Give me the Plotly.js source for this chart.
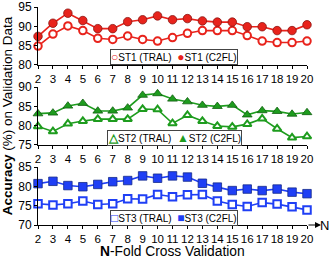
<!DOCTYPE html>
<html>
<head>
<meta charset="utf-8">
<script src="https://cdn.plot.ly/plotly-3.0.1.min.js"></script>
<style>html,body{margin:0;padding:0;background:#fff;}#chart{width:332px;height:259px;}</style>
</head>
<body>
<div id="chart"></div>
<script>
const folds = [2,3,4,5,6,7,8,9,10,11,12,13,14,15,16,17,18,19,20];
const st1Tral = [84.9, 88.0, 90.1, 88.9, 86.9, 86.6, 87.5, 86.6, 86.2, 87.1, 88.2, 88.9, 88.9, 88.9, 87.6, 86.2, 85.8, 85.8, 86.2];
const st1C2fl = [87.4, 90.8, 93.4, 91.5, 89.4, 89.4, 91.2, 91.7, 92.7, 91.7, 92.0, 91.4, 91.1, 91.1, 89.9, 89.9, 88.9, 88.9, 90.4];
const st2Tral = [79.8, 78.5, 80.5, 81.2, 81.7, 81.7, 81.7, 84.3, 84.2, 80.6, 82.7, 81.2, 79.9, 79.7, 80.4, 81.8, 79.2, 76.9, 77.2];
const st2C2fl = [83.1, 83.3, 85.1, 85.8, 83.8, 83.8, 84.6, 87.9, 88.3, 86.9, 86.2, 85.3, 85.0, 85.3, 82.8, 83.9, 83.7, 83.0, 83.4];
const st3Tral = [75.5, 75.2, 75.5, 76.2, 75.3, 75.5, 76.8, 76.7, 77.9, 77.3, 77.8, 77.9, 76.2, 75.3, 74.8, 75.8, 75.4, 74.7, 73.9];
const st3C2fl = [80.7, 81.3, 80.2, 79.9, 80.5, 81.2, 81.5, 82.7, 82.1, 82.7, 82.4, 80.8, 79.8, 78.9, 79.3, 78.9, 79.3, 78.5, 78.1];
const seriesNames = ['ST1 (TRAL)', 'ST1 (C2FL)', 'ST2 (TRAL)', 'ST2 (C2FL)', 'ST3 (TRAL)', 'ST3 (C2FL)'];
const xTitle = '<b>N</b>-Fold Cross Validation';
const yTitle = '<b>Accuracy</b> (%) on Validation Data';

const RED = '#e8231c', RED_D = '#8a1410';
const GREEN = '#1e9c1e', GREEN_D = '#0f5f0f';
const BLUE = '#1f3ff5', BLUE_D = '#142a8a';

function tr(y, name, xa, ya, color, dark, symbol, open) {
  return {
    x: folds, y: y, name: name, xaxis: xa, yaxis: ya, type: 'scatter', mode: 'lines+markers',
    cliponaxis: false, showlegend: false,
    line: {color: color, width: 1.6},
    marker: open ? {symbol: symbol, size: 7.5, color: '#ffffff', line: {color: color, width: 2}}
                 : {symbol: symbol, size: 8.5, color: color, line: {color: dark, width: 0.8}}
  };
}

const data = [
  tr(st1Tral, seriesNames[0], 'x', 'y', RED, RED_D, 'circle', true),
  tr(st1C2fl, seriesNames[1], 'x', 'y', RED, RED_D, 'circle', false),
  tr(st2Tral, seriesNames[2], 'x2', 'y2', GREEN, GREEN_D, 'triangle-up', true),
  tr(st2C2fl, seriesNames[3], 'x2', 'y2', GREEN, GREEN_D, 'triangle-up', false),
  tr(st3Tral, seriesNames[4], 'x3', 'y3', BLUE, BLUE_D, 'square', true),
  tr(st3C2fl, seriesNames[5], 'x3', 'y3', BLUE, BLUE_D, 'square', false)
];

const FONT = 'Liberation Sans, Arial, Helvetica, sans-serif';
function xax(anchor) {
  return {anchor: anchor, range: [2, 20], tickmode: 'array', tickvals: folds, tickangle: 0, showline: true, linecolor: '#000',
    linewidth: 1, ticks: 'outside', ticklen: 3, tickcolor: '#000', showgrid: false, zeroline: false,
    tickfont: {size: 11.5, color: '#000'}};
}
function yax(anchor, dom, range, ticks) {
  return {anchor: anchor, domain: dom, range: range, tickvals: ticks, showline: true, linecolor: '#000',
    linewidth: 1, ticks: 'outside', ticklen: 3, tickcolor: '#000', showgrid: false, zeroline: false,
    tickfont: {size: 12, color: '#000'}};
}

function sym(ch, color) {
  return '<span style="color:' + color + ';font-size:12px">' + ch + '</span>';
}

const layout = {
  width: 332, height: 259,
  margin: {l: 38, r: 25, t: 7, b: 34},
  paper_bgcolor: '#fff', plot_bgcolor: '#fff',
  font: {family: FONT, color: '#000'},
  showlegend: false,
  xaxis: xax('y'),
  yaxis: yax('x', [0.734, 1], [80, 95], [80, 85, 90, 95]),
  xaxis2: xax('y2'),
  yaxis2: Object.assign(yax('x2', [0.367, 0.633], [75, 90], [75, 80, 85, 90]),
    {title: {text: yTitle, font: {size: 13.5}}}),
  xaxis3: xax('y3'),
  yaxis3: yax('x3', [0, 0.266], [70, 85], [70, 75, 80, 85]),
  annotations: [
    {xref: 'paper', yref: 'paper', x: 0.5, y: -0.122, xanchor: 'center', yanchor: 'middle', showarrow: false,
     text: xTitle, font: {size: 13.8}},
    {xref: 'paper', yref: 'paper', x: 0.506, y: 0.771, xanchor: 'center', yanchor: 'middle', showarrow: false,
     text: sym('<b>○</b>', RED) + seriesNames[0] + '  ' + sym('●', RED) + seriesNames[1],
     font: {size: 10}, bgcolor: '#fff', bordercolor: '#444', borderwidth: 1, borderpad: 0},
    {xref: 'paper', yref: 'paper', x: 0.506, y: 0.399, xanchor: 'center', yanchor: 'middle', showarrow: false,
     text: sym('<b>△</b>', GREEN) + seriesNames[2] + '  ' + sym('▲', GREEN) + seriesNames[3],
     font: {size: 10}, bgcolor: '#fff', bordercolor: '#444', borderwidth: 1, borderpad: 0},
    {xref: 'paper', yref: 'paper', x: 0.506, y: 0.032, xanchor: 'center', yanchor: 'middle', showarrow: false,
     text: sym('<b>□</b>', BLUE) + seriesNames[4] + '  ' + sym('■', BLUE) + seriesNames[5],
     font: {size: 10}, bgcolor: '#fff', bordercolor: '#444', borderwidth: 1, borderpad: 0},
    {xref: 'paper', yref: 'paper', x: 1.052, y: 0, axref: 'pixel', ayref: 'pixel', ax: -14, ay: 0,
     text: '', showarrow: true, arrowhead: 2, arrowsize: 1.2, arrowwidth: 1, arrowcolor: '#000', standoff: 0},
    {xref: 'paper', yref: 'paper', x: 1.088, y: 0, xanchor: 'right', yanchor: 'middle', showarrow: false,
     text: 'N', font: {size: 13}}
  ]
};

Plotly.newPlot('chart', data, layout, {displayModeBar: false, staticPlot: true});
</script>
</body>
</html>
